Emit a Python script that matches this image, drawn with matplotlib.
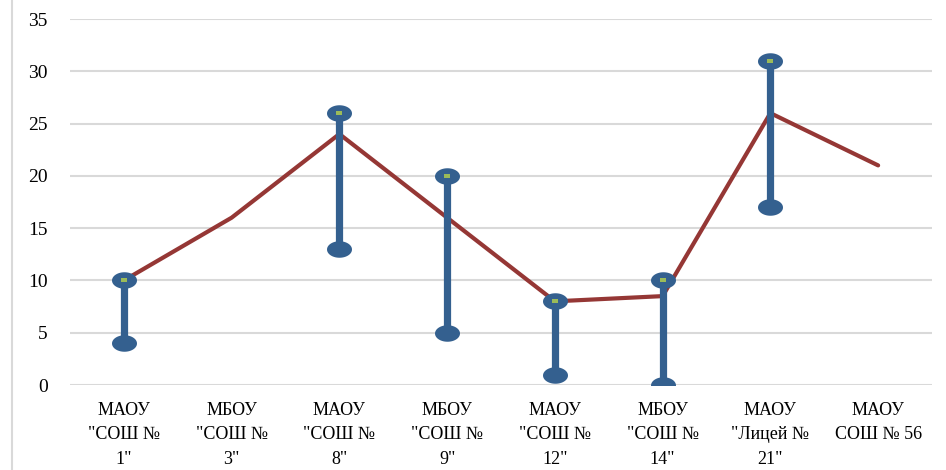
import numpy as np
import matplotlib.pyplot as plt
from matplotlib.path import Path
from matplotlib.lines import Line2D

categories = ['МАОУ\n"СОШ №\n1"', 'МБОУ\n"СОШ №\n3"', 'МАОУ\n"СОШ №\n8"', 'МБОУ\n"СОШ №\n9"',
              'МАОУ\n"СОШ №\n12"', 'МБОУ\n"СОШ №\n14"', 'МАОУ\n"Лицей №\n21"', 'МАОУ\nСОШ № 56']
line_vals = [10, 16, 24, 16, 8, 8.5, 26, 21]
high_vals = [10, np.nan, 26, 20, 8, 10, 31, np.nan]
low_vals = [4, np.nan, 13, 5, 1, 0, 17, np.nan]

plt.rcParams['font.family'] = ['Liberation Serif', 'DejaVu Serif']

fig = plt.figure(figsize=(9.46, 4.70), dpi=100)
ax = fig.add_axes([70 / 946, 1 - 385 / 470, 862 / 946, 366 / 470])

x = np.arange(len(categories))
blue = '#34608f'
red = '#953735'

# ellipse marker
t = np.linspace(0, 2 * np.pi, 60)
ell = Path(np.column_stack([np.cos(t), 0.66 * np.sin(t)]))
rect = Path([(-1, -0.55), (1, -0.55), (1, 0.55), (-1, 0.55), (-1, -0.55)])

ax.plot(x, line_vals, color=red, lw=3.0, solid_capstyle='round', zorder=3)

for xi, hi, lo in zip(x, high_vals, low_vals):
    if np.isnan(hi):
        continue
    ax.plot([xi, xi], [lo, hi], color=blue, lw=5.2, zorder=4)
    ax.plot([xi, xi], [lo, hi], ls='none', marker=ell, ms=18, color=blue,
            markeredgewidth=0, zorder=5)
    ax.plot([xi], [hi], ls='none', marker=rect, ms=4, color='#9bbb59',
            markeredgewidth=0, zorder=6)

ax.set_xlim(-0.5, len(categories) - 0.5)
ax.set_ylim(0, 35)
ax.set_yticks(range(0, 36, 5))
ax.set_xticks(x)
ax.set_xticklabels(categories, fontsize=13, linespacing=1.6)
ax.tick_params(axis='y', labelsize=14, length=0, pad=16)
ax.tick_params(axis='x', length=0, pad=12)
ax.grid(axis='y', color='#d9d9d9', lw=1.5)
ax.set_axisbelow(True)
for s in ax.spines.values():
    s.set_visible(False)

fig.add_artist(Line2D([12 / 946, 12 / 946], [0, 1], color='#d9d9d9', lw=1.5))

fig.savefig('out.png', dpi=100)
